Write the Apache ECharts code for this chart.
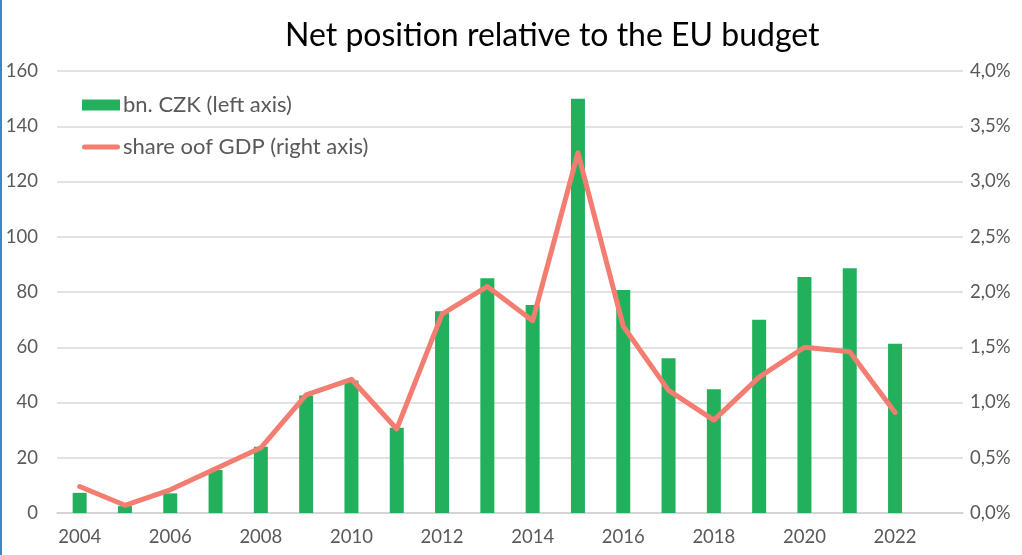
<!DOCTYPE html>
<html>
<head>
<meta charset="utf-8">
<script src="https://cdn.jsdelivr.net/npm/echarts@6/dist/echarts.min.js"></script>
<style>
  html, body { margin: 0; padding: 0; background: #fff; }
  #chart { width: 1022px; height: 555px; }
</style>
</head>
<body>
<div id="chart"></div>
<script>
// Years on the category axis (last slot left empty)
const years = ['2004','2005','2006','2007','2008','2009','2010','2011','2012','2013',
               '2014','2015','2016','2017','2018','2019','2020','2021','2022','2023'];
// Net position, bn. CZK
const netCzk = [7.3, 2.5, 7.1, 15.6, 24, 42.5, 48, 30.9, 73, 85,
                75.3, 150, 80.7, 56, 44.8, 70, 85.4, 88.6, 61.3, null];
// Net position as share of GDP, %
const shareGdp = [0.24, 0.07, 0.21, 0.40, 0.59, 1.07, 1.21, 0.76, 1.80, 2.05,
                  1.74, 3.26, 1.69, 1.11, 0.84, 1.23, 1.50, 1.46, 0.91, null];

const FONT = 'Lato';
const LABEL_COLOR = '#595959';
const AXIS_FONT = 18.5;

const chart = echarts.init(document.getElementById('chart'));
chart.setOption({
  animation: false,
  backgroundColor: '#ffffff',
  textStyle: { fontFamily: FONT },
  title: {
    text: 'Net position relative to the EU budget',
    left: 280,
    top: 15,
    textStyle: { fontFamily: FONT, fontSize: 32, fontWeight: 'normal', color: '#000000' }
  },
  graphic: [{
    type: 'rect',
    shape: { x: 0, y: 0, width: 2, height: 555 },
    style: { fill: '#3a86c8' },
    silent: true
  }],
  legend: [{
    data: ['bn. CZK (left axis)'],
    left: 77, top: 89,
    itemWidth: 38, itemHeight: 11,
    icon: 'rect',
    textStyle: { fontFamily: FONT, fontSize: 22, color: LABEL_COLOR, padding: [0, 0, 0, -2] }
  }, {
    data: ['share oof GDP (right axis)'],
    left: 77, top: 131,
    itemWidth: 38, itemHeight: 5,
    icon: 'path://M2.5,0 L35.5,0 A2.5,2.5 0 0 1 35.5,5 L2.5,5 A2.5,2.5 0 0 1 2.5,0 Z',
    textStyle: { fontFamily: FONT, fontSize: 22, color: LABEL_COLOR, padding: [0, 0, 0, -2] }
  }],
  grid: { left: 57, right: 59, top: 71, bottom: 42, containLabel: false },
  xAxis: {
    type: 'category',
    data: years,
    axisLine: { lineStyle: { color: '#d0d0d0', width: 1.5 } },
    axisTick: { show: false },
    axisLabel: {
      interval: 1,
      color: LABEL_COLOR, fontFamily: FONT, fontSize: AXIS_FONT, margin: 15,
      formatter: v => (v === '2023' ? '' : v)
    }
  },
  yAxis: [{
    type: 'value',
    min: 0, max: 160, interval: 20,
    axisLine: { show: false },
    axisTick: { show: false },
    splitLine: { lineStyle: { color: '#d9d9d9', width: 1.5 } },
    axisLabel: { color: LABEL_COLOR, fontFamily: FONT, fontSize: AXIS_FONT, margin: 19 }
  }, {
    type: 'value',
    min: 0, max: 4, interval: 0.5,
    axisLine: { show: false },
    axisTick: { show: false },
    splitLine: { show: false },
    axisLabel: {
      color: LABEL_COLOR, fontFamily: FONT, fontSize: AXIS_FONT, margin: 7,
      formatter: v => v.toFixed(1).replace('.', ',') + '%'
    }
  }],
  series: [{
    name: 'bn. CZK (left axis)',
    type: 'bar',
    yAxisIndex: 0,
    data: netCzk,
    barWidth: 14,
    itemStyle: { color: '#22b05d' }
  }, {
    name: 'share oof GDP (right axis)',
    type: 'line',
    yAxisIndex: 1,
    data: shareGdp,
    symbol: 'none',
    lineStyle: { color: '#f27d70', width: 5, cap: 'round', join: 'round' },
    itemStyle: { color: '#f27d70' }
  }]
});
</script>
</body>
</html>
